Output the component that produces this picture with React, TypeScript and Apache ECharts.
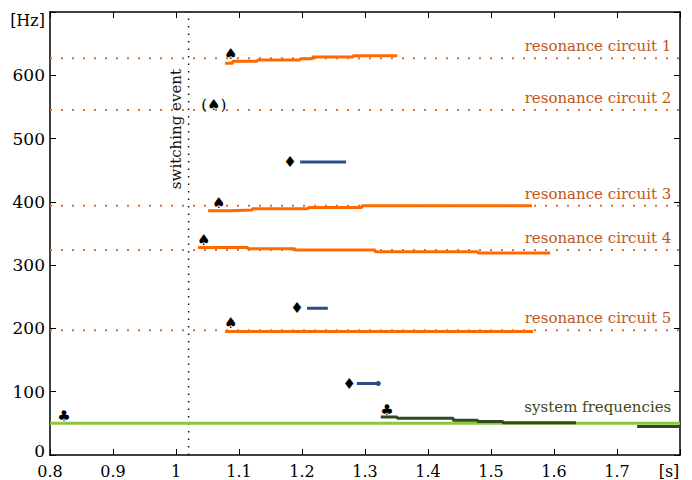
import React, { useEffect, useRef } from "react";
import * as echarts from "echarts";

const xTickLabels = ["0.8", "0.9", "1", "1.1", "1.2", "1.3", "1.4", "1.5", "1.6", "1.7", "[s]"];
const yTickLabels = ["0", "100", "200", "300", "400", "500", "600", "[Hz]"];

const resonanceLevels = [627, 545, 394, 324, 197];
const resonanceNames = [
  "resonance circuit 1",
  "resonance circuit 2",
  "resonance circuit 3",
  "resonance circuit 4",
  "resonance circuit 5",
];
const switchingTime = 1.02;

const circuit1 = [[1.078, 619], [1.09, 622], [1.129, 624], [1.197, 626], [1.217, 629], [1.281, 631], [1.351, 631]];
const circuit3 = [[1.051, 386], [1.083, 387], [1.121, 389], [1.21, 391], [1.295, 394], [1.565, 394]];
const circuit4 = [[1.035, 328], [1.114, 326], [1.189, 324], [1.316, 321], [1.479, 319], [1.594, 319]];
const circuit5 = [[1.078, 195], [1.567, 195]];

const blue1 = [[1.197, 463], [1.27, 463]];
const blue2 = [[1.208, 232], [1.241, 232]];
const blue3 = [[1.287, 113], [1.321, 113]];

const systemA = [[1.325, 60], [1.351, 58], [1.44, 55], [1.479, 53], [1.519, 51], [1.635, 51]];
const systemB = [[1.732, 45], [1.8, 45]];
const grid50 = [[0.8, 50], [1.8, 50]];

const spades = [
  { pos: [1.087, 633], text: "♠" },
  { pos: [1.06, 553], text: "(♠)" },
  { pos: [1.068, 398], text: "♠" },
  { pos: [1.044, 340], text: "♠" },
  { pos: [1.087, 208], text: "♠" },
];
const clubs = [[0.822, 62], [1.335, 71]];
const diamonds = [[1.181, 463], [1.192, 232], [1.275, 112]];

const SERIF = "DejaVu Serif";
const ORANGE = "#ff6a00";
const DOT = "#d4743a";
const LABEL = "#c0561a";
const GREEN = "#8cc63f";
const DARK = "#2f4a1f";
const BLUE = "#2a4d8a";

export default function App() {
  const ref = useRef<HTMLDivElement>(null);
  useEffect(() => {
    if (!ref.current) return;
    const chart = echarts.init(ref.current, null, { renderer: "svg" });
    const stepLine = (data: number[][], color: string, z = 3) => ({
      type: "line",
      data,
      step: "end",
      symbol: "none",
      lineStyle: { color, width: 3 },
      z,
    });
    const textPoint = (pos: number[], text: string, extra: any = {}) => ({
      value: pos,
      label: { show: true, formatter: text, fontFamily: SERIF, ...extra },
    });
    const series: any[] = [];
    resonanceLevels.forEach((lv) => {
      series.push({
        type: "line",
        data: [[0.8, lv], [1.8, lv]],
        symbol: "none",
        lineStyle: { color: DOT, width: 2, type: [2, 9] },
        z: 1,
      });
    });
    series.push({
      type: "line",
      data: [[switchingTime, 0], [switchingTime, 700]],
      symbol: "none",
      lineStyle: { color: "#111", width: 1.5, type: [1.5, 6] },
      z: 1,
    });
    series.push(stepLine(grid50, GREEN, 2));
    series.push(stepLine(circuit1, ORANGE));
    series.push(stepLine(circuit3, ORANGE));
    series.push(stepLine(circuit4, ORANGE));
    series.push(stepLine(circuit5, ORANGE));
    series.push(stepLine(blue1, BLUE));
    series.push(stepLine(blue2, BLUE));
    series.push({
      type: "line",
      data: blue3,
      symbol: (v: any, p: any) => (p.dataIndex === 1 ? "circle" : "none"),
      symbolSize: 5,
      showSymbol: true,
      itemStyle: { color: BLUE },
      lineStyle: { color: BLUE, width: 3 },
      z: 3,
    });
    series.push(stepLine(systemA, DARK));
    series.push(stepLine(systemB, DARK));
    const labelData: any[] = [];
    resonanceLevels.forEach((lv, i) => {
      labelData.push(
        textPoint([1.787, lv], resonanceNames[i], {
          position: "left",
          distance: 0,
          offset: [0, -12],
          color: LABEL,
          fontSize: 15,
        })
      );
    });
    labelData.push(
      textPoint([1.787, 50], "system frequencies", {
        position: "left",
        distance: 0,
        offset: [0, -16],
        color: "#3d4a20",
        fontSize: 15,
      })
    );
    labelData.push(
      textPoint([1.0, 515], "switching event", {
        position: "inside",
        rotate: 90,
        color: "#111",
        fontSize: 15,
      })
    );
    spades.forEach((s) =>
      labelData.push(textPoint(s.pos, s.text, { position: "inside", color: "#000", fontSize: 15 }))
    );
    clubs.forEach((c) =>
      labelData.push(textPoint(c, "♣", { position: "inside", color: "#000", fontSize: 15 }))
    );
    diamonds.forEach((d) =>
      labelData.push(textPoint(d, "♦", { position: "inside", color: "#000", fontSize: 15 }))
    );
    series.push({
      type: "scatter",
      data: labelData,
      symbol: "circle",
      symbolSize: 1,
      itemStyle: { color: "rgba(0,0,0,0)", opacity: 1 },
      silent: true,
      z: 5,
    });

    const xBase = {
      type: "value",
      min: 0.8,
      max: 1.8,
      interval: 0.1,
      axisLine: { show: true, onZero: false, lineStyle: { color: "#000", width: 1.5 } },
      axisTick: { show: true, inside: true, length: 6, lineStyle: { color: "#000" } },
      splitLine: { show: false },
    };
    const yBase = {
      type: "value",
      min: 0,
      max: 700,
      interval: 100,
      axisLine: { show: true, onZero: false, lineStyle: { color: "#000", width: 1.5 } },
      axisTick: { show: true, inside: true, length: 6, lineStyle: { color: "#000" } },
      splitLine: { show: false },
    };
    chart.setOption({
      animation: false,
      backgroundColor: "#fff",
      grid: { left: 50, right: 12, top: 12, bottom: 25 },
      xAxis: [
        {
          ...xBase,
          position: "bottom",
          axisLabel: {
            color: "#000",
            fontFamily: SERIF,
            fontSize: 16,
            margin: 8,
            formatter: (v: number) => {
              const i = Math.round((v - 0.8) * 10);
              return i === 10 ? "{u|" + xTickLabels[i] + "}" : xTickLabels[i] ?? "";
            },
            rich: { u: { fontFamily: SERIF, fontSize: 16, color: "#000", padding: [0, 22, 0, 0] } },
          },
        },
        { ...xBase, position: "top", axisLabel: { show: false } },
      ],
      yAxis: [
        {
          ...yBase,
          position: "left",
          axisLabel: {
            color: "#000",
            fontFamily: SERIF,
            fontSize: 17,
            margin: 5,
            formatter: (v: number) => {
              const i = Math.round(v / 100);
              if (i === 7) return "{u|" + yTickLabels[i] + "}";
              if (i === 0) return "{z|" + yTickLabels[i] + "}";
              return yTickLabels[i] ?? "";
            },
            rich: {
              u: { fontFamily: SERIF, fontSize: 16, color: "#000", padding: [16, 0, 0, 0] },
              z: { fontFamily: SERIF, fontSize: 17, color: "#000", padding: [0, 0, 8, 0] },
            },
          },
        },
        { ...yBase, position: "right", axisLabel: { show: false } },
      ],
      series,
    });
    return () => chart.dispose();
  }, []);
  return <div ref={ref} style={{ width: 692, height: 480, position: "absolute", left: 0, top: 0 }} />;
}
